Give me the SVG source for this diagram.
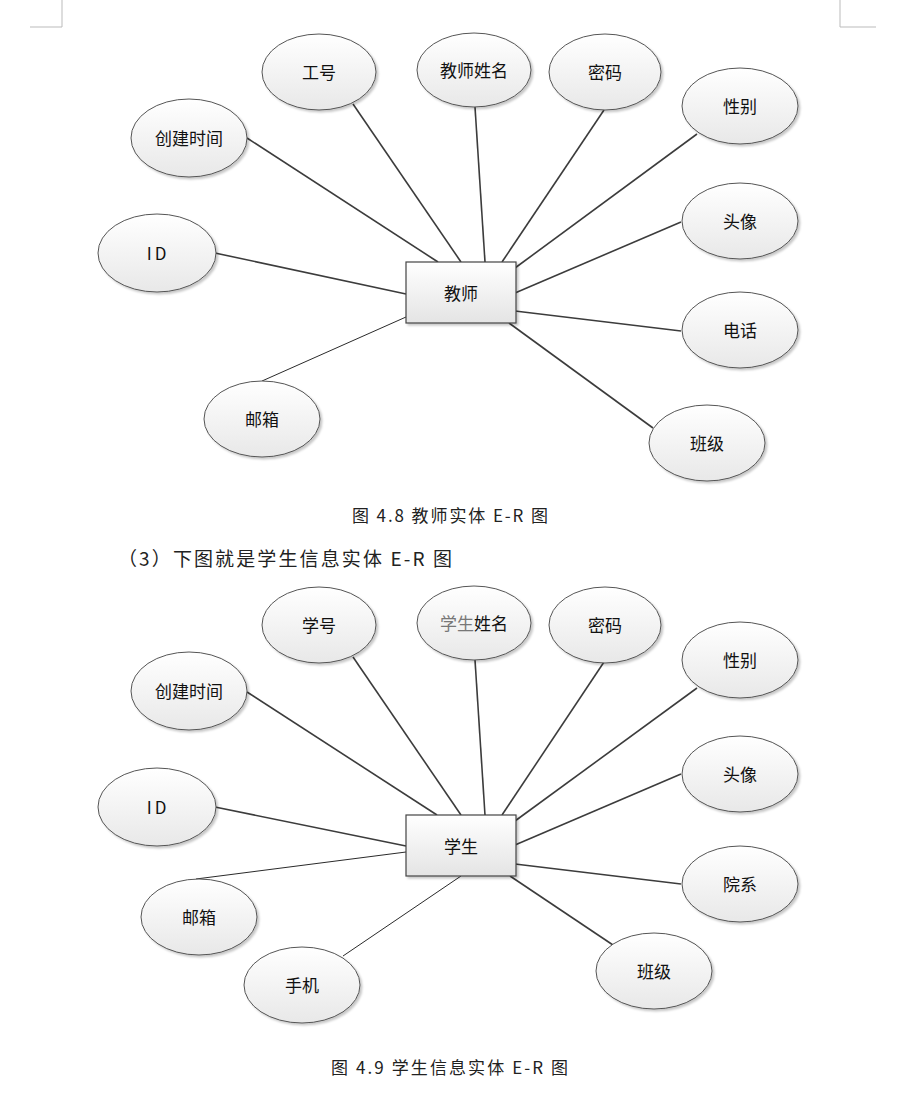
<svg xmlns="http://www.w3.org/2000/svg" width="920" height="1105" viewBox="0 0 920 1105">
<defs>
<linearGradient id="eg" x1="0" y1="0" x2="0" y2="1">
<stop offset="0" stop-color="#ffffff"/>
<stop offset="1" stop-color="#e8e8e8"/>
</linearGradient>
<linearGradient id="rg" x1="0" y1="0" x2="0" y2="1">
<stop offset="0" stop-color="#ffffff"/>
<stop offset="1" stop-color="#e4e4e4"/>
</linearGradient>
<filter id="sh" x="-20%" y="-20%" width="150%" height="150%">
<feDropShadow dx="2" dy="2" stdDeviation="1.2" flood-color="#000" flood-opacity="0.22"/>
</filter>
</defs>
<style>
.att{fill:url(#eg);stroke:#555;stroke-width:1;filter:url(#sh)}
.ent{fill:url(#rg);stroke:#444;stroke-width:1.2;filter:url(#sh)}
.lbl{font-family:"Noto Sans CJK SC","Microsoft YaHei",sans-serif;font-size:17px;fill:#111;text-anchor:middle;dominant-baseline:central}
.cap{font-family:"Noto Sans CJK SC",sans-serif;font-size:17px;fill:#222}
.cap2{font-family:"Noto Sans CJK SC",sans-serif;font-size:19px;fill:#222}
.ln{stroke:#3c3c3c;stroke-width:1.6;fill:none}
.thin{stroke:#2a2a2a;stroke-width:1;fill:none}
.mark{stroke:#bbb;stroke-width:1;fill:none}
</style>
<rect width="920" height="1105" fill="#fff"/>
<g id="corner-marks">
<path class="mark" d="M62 0 V27 H30"/>
<path class="mark" d="M840 0 V27 H876"/>
</g>

<g id="connectors-teacher">
<line class="ln" x1="247" y1="138" x2="438" y2="262"/>
<line class="ln" x1="353" y1="104" x2="461" y2="262"/>
<line class="ln" x1="475" y1="107" x2="485" y2="262"/>
<line class="ln" x1="604" y1="110" x2="502" y2="262"/>
<line class="ln" x1="697" y1="134" x2="515" y2="268"/>
<line class="ln" x1="681" y1="222" x2="515" y2="293"/>
<line class="ln" x1="681" y1="331" x2="515" y2="311"/>
<line class="ln" x1="653" y1="428" x2="509" y2="323"/>
<line class="ln" x1="215" y1="253" x2="406" y2="294"/>
<line class="thin" x1="262" y1="381" x2="406" y2="317"/>
</g>

<g id="teacher-entity"><rect class="ent" x="406" y="262" width="110" height="61"/><text class="lbl" x="461" y="292">教师</text></g>
<g id="t-gonghao"><ellipse class="att" cx="319" cy="72" rx="57" ry="38"/><text class="lbl" x="319" y="71">工号</text></g>
<g id="t-name"><ellipse class="att" cx="474" cy="70" rx="57" ry="37"/><text class="lbl" x="474" y="69">教师姓名</text></g>
<g id="t-pwd"><ellipse class="att" cx="605" cy="72" rx="56" ry="38"/><text class="lbl" x="605" y="71">密码</text></g>
<g id="t-sex"><ellipse class="att" cx="740" cy="106" rx="58" ry="38"/><text class="lbl" x="740" y="105">性别</text></g>
<g id="t-ctime"><ellipse class="att" cx="189" cy="138" rx="58" ry="39"/><text class="lbl" x="189" y="137">创建时间</text></g>
<g id="t-avatar"><ellipse class="att" cx="740" cy="221" rx="58" ry="38"/><text class="lbl" x="740" y="220">头像</text></g>
<g id="t-id"><ellipse class="att" cx="157" cy="253" rx="59" ry="39"/><text class="lbl" x="158" y="252" letter-spacing="3">ID</text></g>
<g id="t-phone"><ellipse class="att" cx="740" cy="330" rx="58" ry="38"/><text class="lbl" x="740" y="329">电话</text></g>
<g id="t-email"><ellipse class="att" cx="262" cy="419" rx="58" ry="38"/><text class="lbl" x="262" y="418">邮箱</text></g>
<g id="t-class"><ellipse class="att" cx="707" cy="443" rx="58" ry="38"/><text class="lbl" x="707" y="442">班级</text></g>

<text class="cap" x="352" y="522" textLength="196" lengthAdjust="spacing">图 4.8 教师实体 E-R 图</text>
<text class="cap2" x="118" y="566" textLength="334" lengthAdjust="spacing">（3）下图就是学生信息实体 E-R 图</text>

<g id="connectors-student">
<line class="ln" x1="247" y1="692" x2="437" y2="815"/>
<line class="ln" x1="353" y1="657" x2="461" y2="815"/>
<line class="ln" x1="475" y1="660" x2="485" y2="815"/>
<line class="ln" x1="604" y1="662" x2="502" y2="815"/>
<line class="ln" x1="697" y1="688" x2="515" y2="821"/>
<line class="ln" x1="681" y1="774" x2="515" y2="845"/>
<line class="ln" x1="681" y1="884" x2="515" y2="864"/>
<line class="ln" x1="510" y1="876" x2="613" y2="945"/>
<line class="ln" x1="215" y1="807" x2="406" y2="846"/>
<line class="thin" x1="196" y1="879" x2="406" y2="852"/>
<line class="thin" x1="461" y1="876" x2="343" y2="956"/>
</g>

<g id="student-entity"><rect class="ent" x="406" y="815" width="110" height="61"/><text class="lbl" x="461" y="845">学生</text></g>
<g id="s-xuehao"><ellipse class="att" cx="319" cy="625" rx="57" ry="38"/><text class="lbl" x="319" y="624">学号</text></g>
<g id="s-name"><ellipse class="att" cx="474" cy="623" rx="57" ry="37"/><text class="lbl" x="474" y="622"><tspan fill="#777">学生</tspan>姓名</text></g>
<g id="s-pwd"><ellipse class="att" cx="605" cy="625" rx="56" ry="38"/><text class="lbl" x="605" y="624">密码</text></g>
<g id="s-sex"><ellipse class="att" cx="740" cy="660" rx="58" ry="38"/><text class="lbl" x="740" y="659">性别</text></g>
<g id="s-ctime"><ellipse class="att" cx="189" cy="691" rx="58" ry="39"/><text class="lbl" x="189" y="690">创建时间</text></g>
<g id="s-avatar"><ellipse class="att" cx="740" cy="774" rx="58" ry="38"/><text class="lbl" x="740" y="773">头像</text></g>
<g id="s-id"><ellipse class="att" cx="157" cy="807" rx="59" ry="39"/><text class="lbl" x="158" y="806" letter-spacing="3">ID</text></g>
<g id="s-dept"><ellipse class="att" cx="740" cy="884" rx="58" ry="38"/><text class="lbl" x="740" y="883">院系</text></g>
<g id="s-email"><ellipse class="att" cx="199" cy="917" rx="58" ry="38"/><text class="lbl" x="199" y="916">邮箱</text></g>
<g id="s-mobile"><ellipse class="att" cx="302" cy="985" rx="58" ry="38"/><text class="lbl" x="302" y="984">手机</text></g>
<g id="s-class"><ellipse class="att" cx="654" cy="971" rx="58" ry="38"/><text class="lbl" x="654" y="970">班级</text></g>

<text class="cap" x="331" y="1074" textLength="237" lengthAdjust="spacing">图 4.9 学生信息实体 E-R 图</text>
</svg>
